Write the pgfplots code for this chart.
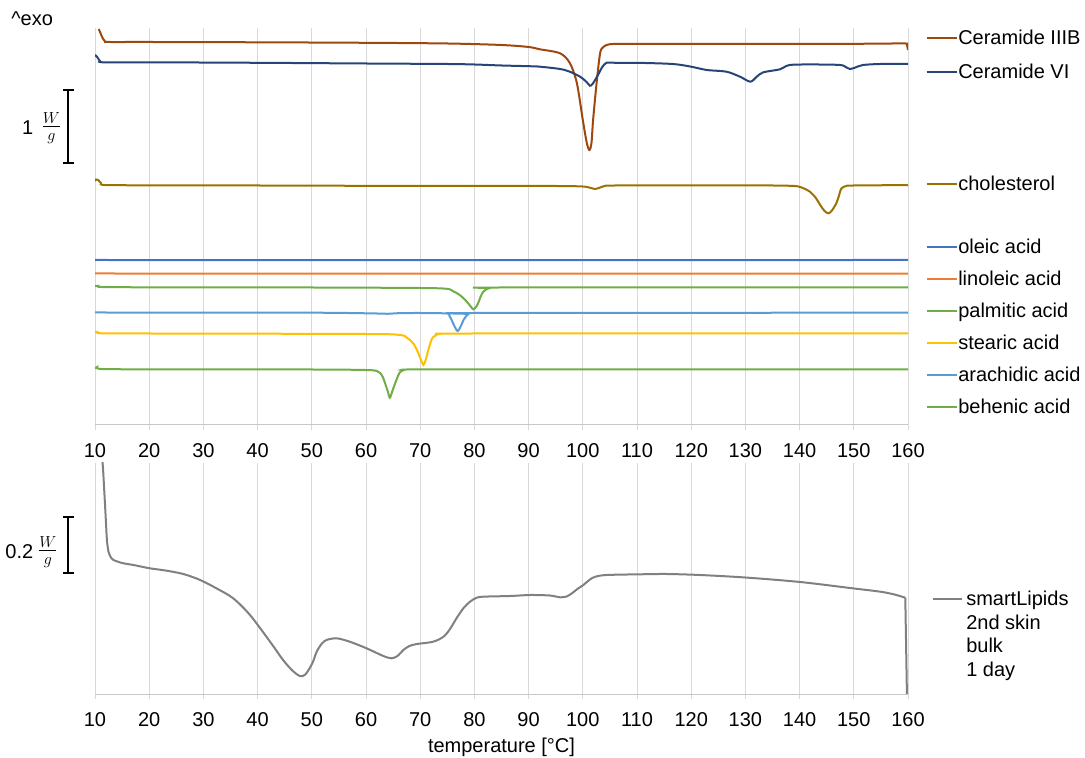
\documentclass[border=0pt]{standalone}
\usepackage{pgfplots}
\pgfplotsset{compat=1.18}
\usepackage{fontspec}
\setmainfont{Liberation Sans}
\definecolor{cIIIB}{HTML}{9E480E}
\definecolor{cVI}{HTML}{264478}
\definecolor{cChol}{HTML}{997300}
\definecolor{cOle}{HTML}{4472C4}
\definecolor{cLin}{HTML}{ED7D31}
\definecolor{cPal}{HTML}{70AD47}
\definecolor{cSte}{HTML}{FFC000}
\definecolor{cAra}{HTML}{5B9BD5}
\definecolor{cBeh}{HTML}{70AD47}
\definecolor{cSL}{HTML}{808080}
\definecolor{cGrid}{HTML}{D9D9D9}
\definecolor{cAxis}{HTML}{C8C8C8}
\pgfplotsset{
  base/.style={
    scale only axis, width=609.75pt, anchor=south west,
    xmin=10, xmax=160, xtick={10,20,...,160}, ytick=\empty,
    axis y line=none, axis x line*=bottom,
    x axis line style={draw=cAxis, line width=0.75pt, -},
    xmajorgrids, grid style={draw=cGrid, line width=0.75pt},
    tick align=outside, major tick length=3.75pt, tick style={draw=cGrid, line width=0.75pt},
    xticklabel style={anchor=base, yshift=-20.75pt},
    /pgf/number format/assume math mode=true,
    every axis plot/.append style={line width=1.5pt, no markers, smooth, tension=0.5},
  }
}
\begin{document}
\begin{tikzpicture}[font=\fontsize{15}{18}\selectfont]
\path[use as bounding box] (0,0) rectangle (813.75pt,567.75pt);
\begin{axis}[base, at={(71.25pt,249pt)}, height=297.75pt, ymin=-425, ymax=-28]
% Ceramide IIIB
\addplot[cIIIB] coordinates {(10.7,-29) (11.0,-33) (11.4,-38) (11.9,-41.5) (12.6,-42) (20,-42) (40,-42.3) (60,-42.8) (75,-43.5) (85,-45) (90,-47) (92.1,-49.3) (95.8,-53.3) (97.6,-63) (98.9,-83) (100,-120) (100.7,-142) (101.2,-150) (101.6,-143) (101.9,-120) (102.6,-80) (103.2,-53) (103.7,-47.5) (104.4,-45) (105.6,-44) (110,-43.8) (130,-43.8) (150,-43.8) (159.5,-43.5) (159.8,-45) (160,-50)};
% Ceramide VI
\addplot[cVI] coordinates {(10,-55) (10.4,-57) (10.9,-61) (11.5,-62.3) (20,-62.3) (40,-62.8) (60,-63.5) (75,-64) (80,-64.5) (85,-65.5) (90,-66.2) (92.1,-66.7) (95.8,-69) (97.6,-71.7) (99.5,-76.7) (100.7,-82) (101.3,-85.7) (101.8,-84) (102.8,-75) (103.6,-67) (104.4,-62.7) (106,-62.8) (110.6,-62.9) (116.6,-64) (119.8,-66.5) (122.9,-70) (126.5,-71.7) (129,-76.7) (130.9,-81.7) (132.1,-76.7) (133.3,-72.3) (136.4,-69.3) (138.2,-65) (143,-64.5) (147.5,-65) (148.5,-67) (149.3,-69) (150.3,-67.5) (151.7,-65) (154.9,-64) (160,-64)};
% cholesterol
\addplot[cChol] coordinates {(10,-181) (10.2,-179.5) (10.6,-180) (11.1,-183) (11.8,-185) (20,-185.3) (40,-185.5) (60,-185.8) (80,-185.8) (95,-186) (100,-186.5) (101.5,-188) (102.3,-189) (103,-188) (104,-186) (106,-185.5) (120,-185.3) (135,-185.5) (139,-186) (140.1,-187) (141,-189) (141.9,-191.7) (143,-198) (143.8,-205) (144.6,-211) (145.3,-213.3) (145.9,-211) (146.8,-203) (147.3,-195) (147.7,-188.5) (148.7,-185.8) (150,-185.5) (159.7,-185.2) (160,-186.5)};
% oleic
\addplot[cOle] coordinates {(10,-259.5) (10.5,-260) (160,-260)};
% linoleic
\addplot[cLin] coordinates {(10,-273.5) (160,-273.7)};
% palmitic
\addplot[cPal] coordinates {(10,-286) (10.5,-285.8) (11.2,-287) (20,-287.3) (50,-287.5) (70,-288) (74.9,-288.8) (76,-291) (77.3,-295) (78.3,-300) (78.8,-303) (79.4,-307) (79.8,-309.3) (80.3,-307) (80.7,-303) (81.2,-296) (81.6,-292) (82.3,-289) (82.9,-288) (85,-287.5) (160,-287.3)};
% stearic
\addplot[cSte] coordinates {(10,-332.5) (10.4,-332) (11.2,-333.3) (20,-333.5) (60,-334) (66.3,-335) (67.5,-337.5) (68.1,-340) (68.8,-344) (69.4,-350) (70,-358) (70.6,-365) (71,-360) (71.5,-350) (72,-341) (72.4,-337) (73,-335) (73.7,-334) (80,-333.5) (160,-333.3)};
% arachidic
\addplot[cAra] coordinates {(10,-312.5) (50,-312.7) (62,-313.5) (64,-313.8) (66,-313.2) (70,-313) (74.9,-313.5) (75.4,-316) (75.8,-320) (76.3,-326) (76.9,-331) (77.5,-326) (78,-320) (78.5,-316) (78.9,-314) (80,-313) (160,-312.7)};
% behenic
\addplot[cBeh] coordinates {(10,-368.5) (10.4,-367) (11.2,-369) (20,-369.3) (50,-369.5) (60,-370) (62,-371) (62.6,-373) (63.1,-377) (63.5,-383) (64,-391) (64.4,-397.7) (64.8,-392) (65.4,-383) (65.9,-376) (66.3,-372) (67,-370) (67.5,-369.5) (80,-369.3) (160,-369.3)};
\end{axis}
\begin{axis}[base, at={(71.25pt,47.25pt)}, height=173.25pt, ymin=-694, ymax=-463,
  xlabel={temperature [°C]}, xlabel style={at={(axis description cs:0.5,0)}, anchor=base, yshift=-43.5pt}]
\addplot[cSL] coordinates {(10.9,-440) (11.4,-463) (11.7,-490) (12.0,-520) (12.2,-540) (12.5,-552) (13.0,-558) (13.4,-560) (15,-563) (17.1,-565) (20.1,-568.3) (23,-570.5) (26.3,-574) (29.4,-580) (32.4,-588.3) (35.5,-598.3) (38.6,-615) (42.3,-641.7) (44.7,-660) (46.5,-671) (47.8,-676) (48.7,-675) (49.4,-670) (50.2,-662) (50.9,-651.7) (51.8,-644) (52.7,-640) (54.6,-638.3) (57,-641.7) (60.1,-648.3) (63.2,-656) (64.7,-658.3) (65.8,-656) (66.9,-650) (68,-646) (69.4,-644) (72.4,-641.7) (74.3,-636.7) (75.5,-629) (76.7,-618.3) (78,-608) (79.2,-601.7) (80.3,-598) (81.6,-596.7) (86.6,-596) (90.3,-595) (93.9,-595.5) (95.8,-597.3) (97,-596.5) (98,-593.3) (99,-589) (100.1,-585) (101.2,-580) (102.3,-576.7) (104.4,-575) (110.6,-574.3) (115.5,-574) (121.6,-575) (130,-577.5) (140.1,-582) (149.3,-588) (154.9,-591.7) (157.5,-594.5) (159.5,-597.7)};
\addplot[cSL, sharp plot] coordinates {(159.5,-597.7) (159.8,-694)};
\end{axis}
\begin{scope}[x=0.75pt,y=-0.75pt,shift={(0pt,567.75pt)}]
\newcommand\legent[3]{\draw[#1,line width=1.5pt] (926.7,#2) -- (956.7,#2); \node[anchor=base west, inner sep=0pt] at (958,#2+6.7) {#3};}
\legent{cIIIB}{38.3}{Ceramide IIIB}
\legent{cVI}{71.7}{Ceramide VI}
\legent{cChol}{184.3}{cholesterol}
\legent{cOle}{247.3}{oleic acid}
\legent{cLin}{279.3}{linoleic acid}
\legent{cPal}{311}{palmitic acid}
\legent{cSte}{342.7}{stearic acid}
\legent{cAra}{375}{arachidic acid}
\legent{cBeh}{406.7}{behenic acid}
\draw[cSL,line width=1.5pt] (933,599.3) -- (961.7,599.3);
\node[anchor=base west, inner sep=0pt] at (966,605.7) {smartLipids};
\node[anchor=base west, inner sep=0pt] at (966,629.3) {2nd skin};
\node[anchor=base west, inner sep=0pt] at (966,652.9) {bulk};
\node[anchor=base west, inner sep=0pt] at (966,676.5) {1 day};
\node[anchor=base west, inner sep=0pt] at (11,26) {\textasciicircum exo};
\draw[line width=1.5pt] (68,90) -- (68,163.3) (62.7,90) -- (74,90) (62.7,163.3) -- (74,163.3);
\node[anchor=east, inner sep=0pt] at (33.5,128) {1};
\node[anchor=west, inner sep=0pt] at (41,128) {\fontsize{17}{20}\selectfont$\frac{W}{g}$};
\draw[line width=1.5pt] (68.3,517.3) -- (68.3,573.3) (62.7,517.3) -- (74,517.3) (62.7,573.3) -- (74,573.3);
\node[anchor=east, inner sep=0pt] at (33.5,552) {0.2};
\node[anchor=west, inner sep=0pt] at (37.5,552) {\fontsize{17}{20}\selectfont$\frac{W}{g}$};
\end{scope}
\end{tikzpicture}
\end{document}
